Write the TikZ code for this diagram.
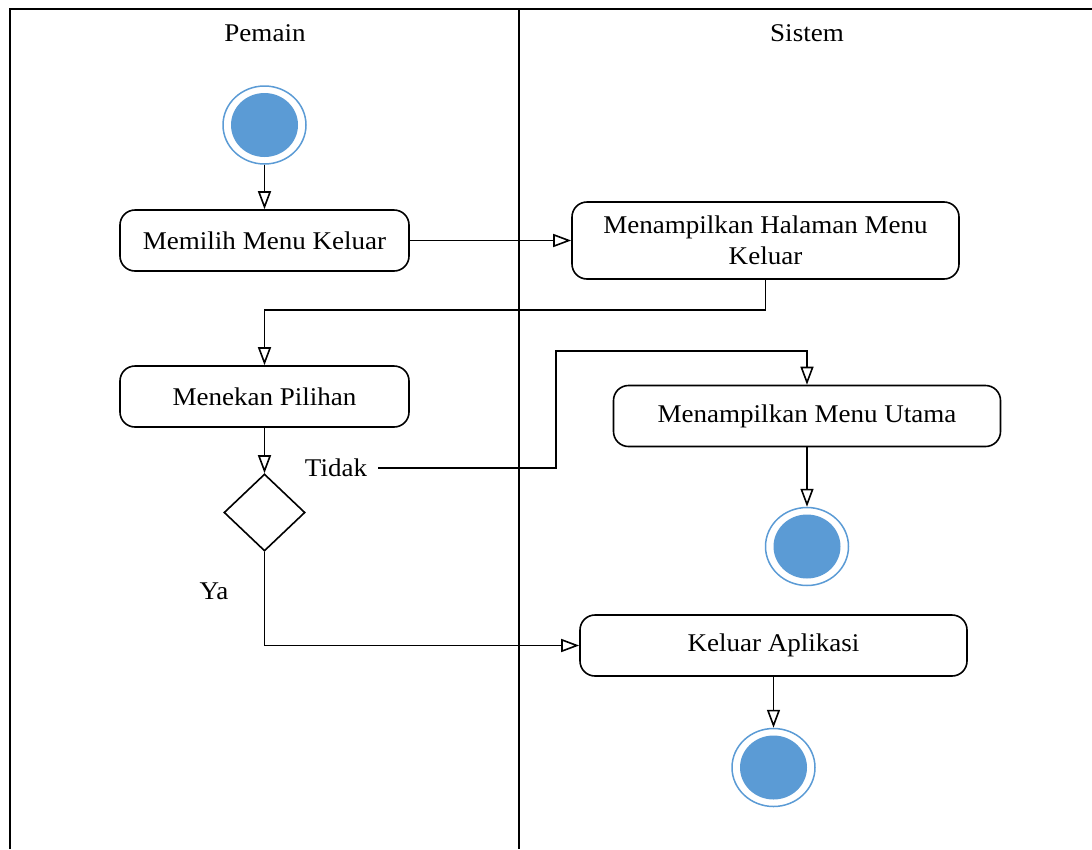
\documentclass[tikz,border=0pt]{standalone}
\usepackage{fontspec}
\setmainfont[FakeStretch=1.06]{Liberation Serif}
\usetikzlibrary{shapes.geometric,arrows.meta}
\definecolor{ublue}{HTML}{5B9BD5}
\tikzset{
  act/.style={draw, line width=1.6pt, rounded corners=15pt, minimum width=289pt,
    minimum height=61pt, inner sep=0pt, align=center, font=\fontsize{25.5}{31}\selectfont},
  wide/.style={act, minimum width=387pt},
  ring/.style={ellipse, draw=ublue, line width=1.5pt, fill=white,
    minimum width=83pt, minimum height=78pt, inner sep=0pt},
  decide/.style={diamond, draw, line width=1.6pt, minimum width=81pt,
    minimum height=77pt, inner sep=0pt},
  flow/.style={line width=1.6pt, -{Triangle[open, length=18pt, width=13pt, line width=1.6pt]}},
  lbl/.style={font=\fontsize{25.5}{31}\selectfont, inner sep=0pt},
  lane/.style={line width=2pt},
}
\begin{document}
\begin{tikzpicture}[x=1pt, y=-1pt]
\useasboundingbox (0,0) rectangle (1092,849);

% swimlane frame
\draw[lane] (10,849) -- (10,9) -- (1092,9);
\draw[lane] (519,9) -- (519,849);
\node[lbl] (hp) at (265,33) {Pemain};
\node[lbl] (hs) at (807,33) {Sistem};

% start and end states
\node[ring] (start) at (264.5,125) {};
\fill[ublue] (start) ellipse (33.5pt and 32pt);
\node[ring] (end1) at (807,546.5) {};
\fill[ublue] (end1) ellipse (33.5pt and 32pt);
\node[ring] (end2) at (773.5,767.5) {};
\fill[ublue] (end2) ellipse (33.5pt and 32pt);

% activities
\node[act] (a1) at (264.5,240.5) {Memilih Menu Keluar};
\node[wide, minimum height=77pt] (a2) at (765.5,240.5) {Menampilkan Halaman Menu\\Keluar};
\node[act] (a3) at (264.5,396.5) {Menekan Pilihan};
\node[wide] (a4) at (807,416) {Menampilkan Menu Utama};
\node[wide] (a5) at (773.5,645.5) {Keluar Aplikasi};
\node[decide] (dec) at (264.5,512.5) {};

% guard labels
\node[lbl] (tidak) at (336,468) {Tidak};
\node[lbl] (ya) at (214,591) {Ya};
\coordinate (t0) at (378,468);
\coordinate (tk) at (556,351);

% flows
\draw[flow] (start) -- (a1);
\draw[flow] (a1.east) -- (a2.west);
\draw[flow] (a2.south) -- ++(0,30) -| (a3.north);
\draw[flow] (a3) -- (dec);
\draw[flow] (t0) -| (tk) -| (a4.north);
\draw[flow] (a4) -- (end1);
\draw[flow] (dec.south) |- (a5.west);
\draw[flow] (a5) -- (end2);
\end{tikzpicture}
\end{document}
